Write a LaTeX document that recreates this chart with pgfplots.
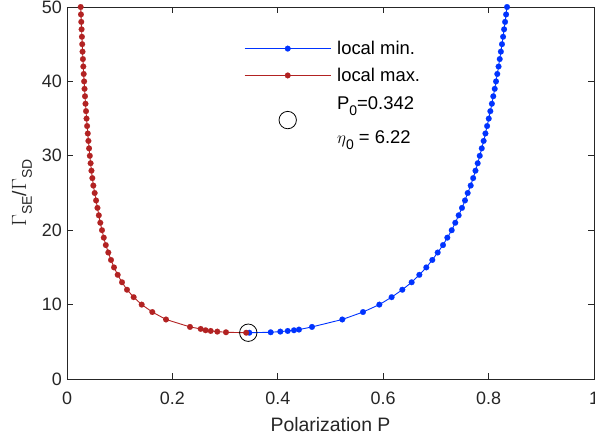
\documentclass[border=0pt]{standalone}
\usepackage{fontspec}
\setmainfont{Liberation Sans}
\usepackage{pgfplots}
\pgfplotsset{compat=1.18}
\definecolor{mblue}{RGB}{0,51,255}
\definecolor{mred}{RGB}{178,34,34}
\definecolor{axgray}{RGB}{38,38,38}
\newcommand{\sub}[1]{\raisebox{-0.55ex}{\fontsize{14}{14}\selectfont #1}}
\begin{document}
\begin{tikzpicture}[x=1bp,y=1bp]
\begin{axis}[
  at={(0,0)}, anchor=south west,
  scale only axis, width=527bp, height=372bp,
  xmin=0, xmax=1, ymin=0, ymax=50,
  xtick={0,0.2,0.4,0.6,0.8,1}, xticklabels={0,0.2,0.4,0.6,0.8,1},
  ytick={0,10,20,30,40,50},
  tick align=inside, major tick length=6bp,
  axis line style={axgray, line width=0.8bp},
  tick style={axgray, line width=0.8bp},
  /pgf/number format/assume math mode=true,
  ticklabel style={font=\fontsize{18}{18}\selectfont, text=axgray, inner sep=0pt},
  xticklabel style={anchor=north, yshift=-13bp},
  yticklabel style={anchor=east, xshift=-5bp},
  xlabel={Polarization P},
  ylabel={$\Gamma$\sub{SE}/$\Gamma$\sub{SD}},
  label style={font=\fontsize{19.5}{19.5}\selectfont, text=axgray},
  xlabel style={at={(axis description cs:0.5,0)}, anchor=center, yshift=-46bp},
  ylabel style={at={(axis description cs:-0.0854,0.5)}, anchor=center},
  clip=false,
  legend style={draw=none, fill=none, at={(axis description cs:0.336,0.914)}, anchor=north west,
    font=\fontsize{18.5}{21}\selectfont, text=black, inner sep=0pt,
    cells={anchor=west, align=left}, row sep=8bp, column sep=4bp},
  legend image code/.code={\draw[mark repeat=2, mark phase=2, #1] plot coordinates {(0bp,0bp) (43bp,0bp) (86bp,0bp)};},
]
\addplot[mblue, line width=0.9bp, mark=*, mark size=2.9bp, mark options={solid, fill=mblue, draw=mblue, line width=0.1bp}] coordinates {
(0.346,6.22)(0.3865,6.28)(0.4048,6.37)(0.4188,6.46)(0.4307,6.55)(0.4402,6.64)(0.4649,7)
(0.5224,8)(0.5617,9)(0.5927,10)(0.6160,11)(0.6363,12)(0.6540,13)(0.6686,14)(0.6818,15)
(0.6932,16)(0.7034,17)(0.7135,18)(0.7217,19)(0.7300,20)(0.7368,21)(0.7432,22)(0.7495,23)
(0.7552,24)(0.7603,25)(0.7660,26)(0.7707,27)(0.7751,28)(0.7793,29)(0.7832,30)(0.7870,31)
(0.7906,32)(0.7940,33)(0.7972,34)(0.8003,35)(0.8033,36)(0.8062,37)(0.8089,38)(0.8116,39)
(0.8141,40)(0.8165,41)(0.8189,42)(0.8211,43)(0.8233,44)(0.8254,45)(0.8275,46)(0.8294,47)
(0.8313,48)(0.8332,49)(0.8350,50)
};
\addlegendentry{local min.}
\addplot[mred, line width=0.9bp, mark=*, mark size=2.9bp, mark options={solid, fill=mred, draw=mred, line width=0.1bp}] coordinates {
(0.0260,50)(0.0265,49)(0.0271,48)(0.0277,47)(0.0283,46)(0.0289,45)(0.0295,44)(0.0302,43)
(0.0310,42)(0.0317,41)(0.0325,40)(0.0333,39)(0.0342,38)(0.0351,37)(0.0361,36)(0.0371,35)
(0.0382,34)(0.0394,33)(0.0406,32)(0.0419,31)(0.0433,30)(0.0448,29)(0.0464,28)(0.0481,27)
(0.0500,26)(0.0525,25)(0.0552,24)(0.0578,23)(0.0604,22)(0.0632,21)(0.0664,20)(0.0698,19)
(0.0736,18)(0.0784,17)(0.0835,16)(0.0892,15)(0.0962,14)(0.1044,13)(0.1139,12)(0.1265,11)
(0.1417,10)(0.1619,9)(0.1879,8)(0.2334,7)(0.2537,6.73)(0.2630,6.55)(0.2727,6.46)
(0.2852,6.37)(0.3017,6.28)(0.3400,6.22)
};
\addlegendentry{local max.}
\addplot[only marks, black, mark=o, mark size=8.7bp, mark options={line width=0.8bp}] coordinates {(0.344,6.22)};
\addlegendentry{\rule{0pt}{15bp}P\sub{0}=0.342\\[13bp]$\eta$\sub{0} = 6.22\rule[-10bp]{0pt}{1bp}}
\end{axis}
\pgfresetboundingbox
\path[use as bounding box] (-67bp,-66bp) rectangle (528bp,379bp);
\end{tikzpicture}
\end{document}
